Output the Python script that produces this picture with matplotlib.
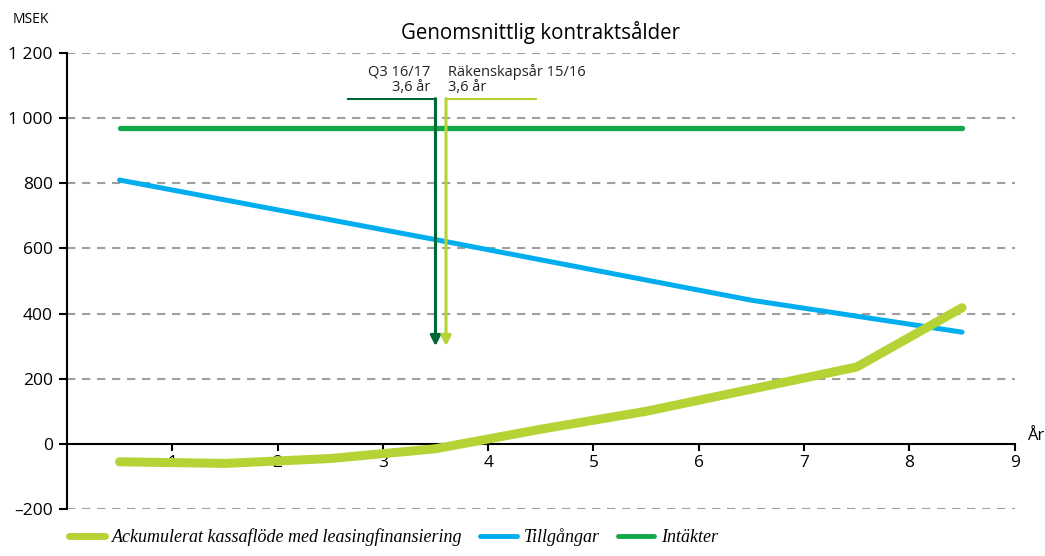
import numpy as np
import matplotlib.pyplot as plt
from matplotlib.lines import Line2D

# data
years = [0.5, 1.5, 2.5, 3.5, 4.5, 5.5, 6.5, 7.5, 8.5]
kassaflode = [-55, -60, -45, -15, 45, 100, 168, 236, 418]
tillgangar = [810, 749, 688, 627, 565, 503, 441, 392, 343]
intakter = [970, 970, 970, 970, 970, 970, 970, 970, 970]

yticks = [-200, 0, 200, 400, 600, 800, 1000, 1200]
ytick_labels = ["\u2013200", "0", "200", "400", "600", "800", "1 000", "1 200"]
xticks = [1, 2, 3, 4, 5, 6, 7, 8, 9]

# contract age markers
q3_age = 3.5
fy_age = 3.6

c_light = "#b5d334"
c_blue = "#00aeef"
c_green = "#12a84a"
c_dark = "#006837"

plt.rcParams["font.family"] = ["Open Sans", "DejaVu Sans"]

fig = plt.figure(figsize=(10.45, 5.56), dpi=100)
ax = fig.add_axes([0.064, 0.0845, 0.907, 0.8202])

ax.set_xlim(0, 9)
ax.set_ylim(-200, 1200)

for yv in yticks:
    if yv != 0:
        ax.axhline(yv, color="#a0a0a0", lw=1.5, ls=(0, (4, 3.2)), zorder=1)

ax.plot(years, intakter, color=c_green, lw=3.8, solid_capstyle="round", zorder=3)
ax.plot(years, tillgangar, color=c_blue, lw=3.6, solid_capstyle="round", zorder=3)
ax.plot(years, kassaflode, color=c_light, lw=6.5, solid_capstyle="round",
        solid_joinstyle="round", zorder=4)

# arrows for average contract age
top = 1060
bottom = 300
ax.plot([2.67, q3_age], [top, top], color=c_dark, lw=1.5, zorder=5)
ax.annotate("", xy=(q3_age, bottom), xytext=(q3_age, top),
            arrowprops=dict(arrowstyle="-|>,head_width=0.3,head_length=0.6",
                            color=c_dark, lw=2.2, shrinkA=0, shrinkB=0), zorder=5)
ax.plot([fy_age, 4.45], [top, top], color=c_light, lw=1.5, zorder=5)
ax.annotate("", xy=(fy_age, bottom), xytext=(fy_age, top),
            arrowprops=dict(arrowstyle="-|>,head_width=0.3,head_length=0.6",
                            color=c_light, lw=2.2, shrinkA=0, shrinkB=0), zorder=5)
ax.text(q3_age - 0.05, top + 12, "Q3 16/17\n3,6 år", ha="right", va="bottom",
        fontsize=10.5, color="#222222", linespacing=1.0)
ax.text(fy_age + 0.02, top + 12, "Räkenskapsår 15/16\n3,6 år", ha="left", va="bottom",
        fontsize=10.5, color="#222222", linespacing=1.0)

# axes styling
for s in ["top", "right"]:
    ax.spines[s].set_visible(False)
ax.spines["bottom"].set_position(("data", 0))
ax.spines["bottom"].set_linewidth(1.5)
ax.spines["left"].set_linewidth(1.5)
ax.set_yticks(yticks)
ax.set_yticklabels(ytick_labels)
ax.set_xticks(xticks)
ax.tick_params(axis="y", direction="out", length=6, width=1.5, labelsize=12.5, pad=4)
ax.tick_params(axis="x", direction="out", length=5, width=1.5, labelsize=12.5, pad=3)

ax.text(9.12, 0, "År", fontsize=12, va="bottom", ha="left")
fig.text(0.012, 0.965, "MSEK", fontsize=10, va="center", ha="left")
ax.set_title("Genomsnittlig kontraktsålder", fontsize=14.8, pad=10)

handles = [
    Line2D([], [], color=c_light, lw=5, solid_capstyle="round"),
    Line2D([], [], color=c_blue, lw=3.5, solid_capstyle="round"),
    Line2D([], [], color=c_green, lw=3.5, solid_capstyle="round"),
]
labels = ["Ackumulerat kassaflöde med leasingfinansiering", "Tillgångar", "Intäkter"]
fig.legend(handles, labels, loc="lower left", bbox_to_anchor=(0.05, -0.012), ncol=3,
           frameon=False, handlelength=2.0, handletextpad=0.4, columnspacing=1.0,
           prop={"family": "Liberation Serif", "style": "italic", "size": 13})

fig.savefig("out.png", dpi=100)
